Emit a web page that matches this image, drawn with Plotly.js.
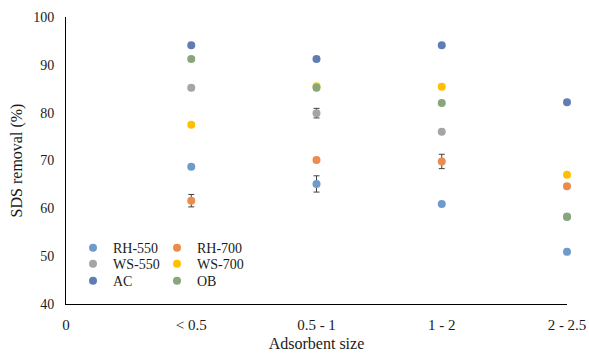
<!DOCTYPE html>
<html>
<head>
<meta charset="utf-8">
<script src="https://cdn.plot.ly/plotly-3.0.1.min.js"></script>
<style>html,body{margin:0;padding:0;background:#fff}#chart{width:589px;height:355px}</style>
</head>
<body>
<div id="chart"></div>
<script>
// Category positions and tick labels
const xPos = [1, 2, 3, 4];
const tickVals = [0, 1, 2, 3, 4];
const tickText = ["0", "< 0.5", "0.5 - 1", "1 - 2", "2 - 2.5"];

// SDS removal (%) per adsorbent
const rh550 = [68.7, 65.1, 60.9, 50.9];
const rh550Err = [0, 1.7, 0, 0];
const rh700 = [61.6, 70.1, 69.8, 64.6];
const rh700Err = [1.3, 0, 1.5, 0.5];
const ws550 = [85.2, 79.9, 76.0, 58.3];
const ws550Err = [0, 1.0, 0, 0];
const ws700 = [77.5, 85.5, 85.4, 67.0];
const ws700Err = [0, 0, 0.4, 0];
const ac = [94.1, 91.2, 94.1, 82.2];
const acErr = [0, 0.4, 0, 0];
const ob = [91.2, 85.2, 82.0, 58.2];
const obErr = [0.4, 0, 0, 0.5];

const names = ["RH-550", "RH-700", "WS-550", "WS-700", "AC", "OB"];
const colors = ["#6E9BCC", "#EC8C4C", "#A5A5A5", "#FFC000", "#5F7DB4", "#88A57C"];
const series = [rh550, rh700, ws550, ws700, ac, ob];
const errs = [rh550Err, rh700Err, ws550Err, ws700Err, acErr, obErr];
// one legend row per pair of series
const legendOf = ["legend", "legend", "legend2", "legend2", "legend3", "legend3"];

const traces = series.map((ys, i) => {
  const t = {
    type: "scatter",
    mode: "markers",
    name: names[i],
    x: xPos,
    y: ys,
    legend: legendOf[i],
    cliponaxis: false,
    marker: {color: colors[i], size: 8},
    error_y: {type: "data", array: errs[i], visible: true, color: "#404040", thickness: 1, width: 3}
  };
  t.legendwidth = (i % 2 === 0) ? 39 : 70;
  return t;
});

const fam = "Liberation Serif, Times New Roman, serif";
const font = {family: fam, color: "#1a1a1a", size: 14};

const legendBase = {
  orientation: "h",
  bgcolor: "rgba(0,0,0,0)",
  font: {family: fam, size: 14, color: "#1a1a1a"},
  yanchor: "middle",
  xanchor: "left",
  x: 0.014,
  entrywidthmode: "pixels",
  tracegroupgap: 0
};

const layout = {
  width: 589,
  height: 355,
  margin: {l: 66, r: 22, t: 17, b: 51},
  paper_bgcolor: "#fff",
  plot_bgcolor: "#fff",
  font: font,
  showlegend: true,
  legend: Object.assign({}, legendBase, {y: 0.195}),
  legend2: Object.assign({}, legendBase, {y: 0.139}),
  legend3: Object.assign({}, legendBase, {y: 0.080}),
  xaxis: {
    range: [0, 4],
    tickmode: "array",
    tickvals: tickVals,
    ticktext: tickText,
    showgrid: false,
    zeroline: false,
    showline: true,
    linecolor: "#000",
    linewidth: 1,
    ticks: "",
    ticklabelstandoff: 7,
    tickfont: {family: fam, size: 15, color: "#1a1a1a"},
    title: {text: "Adsorbent size", font: {family: fam, size: 16, color: "#1a1a1a"}, standoff: 5}
  },
  yaxis: {
    range: [40, 100],
    dtick: 10,
    tick0: 40,
    showgrid: false,
    zeroline: false,
    showline: true,
    linecolor: "#000",
    linewidth: 1,
    ticks: "",
    ticklabelstandoff: 8,
    tickfont: {family: fam, size: 14, color: "#1a1a1a"},
    title: {text: "SDS removal (%)", font: {family: fam, size: 16, color: "#1a1a1a"}, standoff: 6}
  }
};

Plotly.newPlot("chart", traces, layout, {staticPlot: true, displayModeBar: false});
</script>
</body>
</html>
